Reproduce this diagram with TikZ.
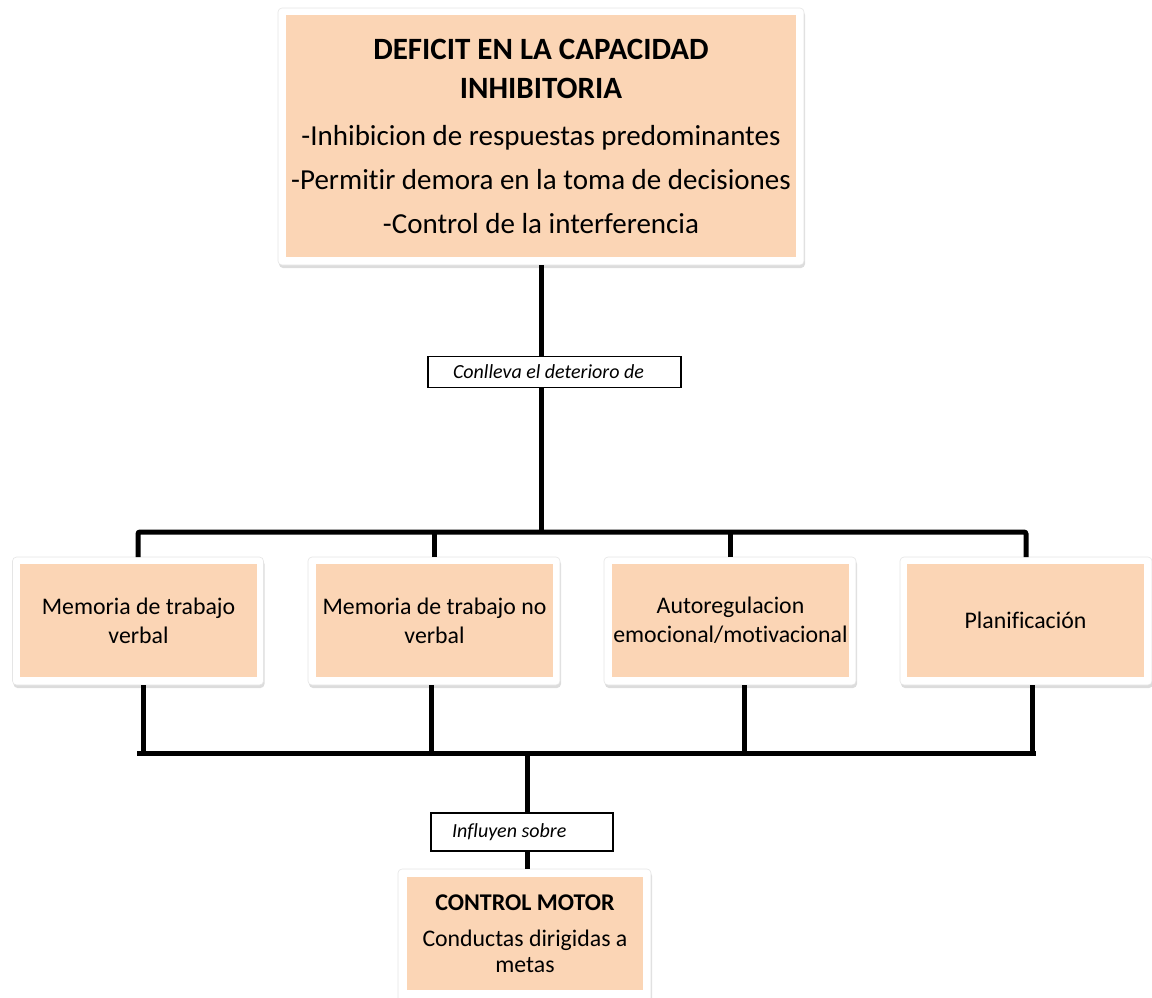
\documentclass[tikz,border=0pt]{standalone}
\usepackage{fontspec}
\setmainfont{Carlito}[Ligatures=NoCommon]
\usetikzlibrary{shadows,calc}
\definecolor{peach}{HTML}{FBD5B5}
\begin{document}
\begin{tikzpicture}[x=1pt,y=-1pt,
  frame/.style={fill=white, draw=black!10, line width=0.6pt, rounded corners=4pt, inner sep=0pt, outer sep=0pt,
    drop shadow={opacity=0.28, shadow xshift=1pt, shadow yshift=-3pt}},
  pbox/.style={fill=peach, inner sep=0pt, outer sep=0pt, align=flush center},
  lbl/.style={draw=black, line width=1.3pt, fill=white, inner ysep=0pt, outer sep=0pt,
    align=flush left, font=\itshape\fontsize{20}{24}\selectfont},
  conn/.style={line width=5pt, draw=black}
]
\useasboundingbox (0,0) rectangle (1152,997);

% top box
\node[frame, minimum width=526pt, minimum height=257pt] (topw) at (541,136.5) {};
\node[pbox, minimum width=510pt, minimum height=242pt, text width=508pt] (top) at (541,136)
 {\vspace*{5pt}{\fontsize{31}{34}\selectfont\bfseries DEFICIT EN LA CAPACIDAD\\INHIBITORIA\par}\vspace{3pt}%
  {\fontsize{29}{44}\selectfont -Inhibicion de respuestas predominantes\\-Permitir demora en la toma de decisiones\\-Control de la interferencia\par}};

% middle boxes
\node[frame, minimum width=251pt, minimum height=128pt] (w1) at (138,621) {};
\node[frame, minimum width=252pt, minimum height=128pt] (w2) at (434,621) {};
\node[frame, minimum width=252pt, minimum height=128pt] (w3) at (730,621) {};
\node[frame, minimum width=252pt, minimum height=128pt] (w4) at (1026,621) {};
\tikzset{mid/.style={pbox, minimum width=237pt, minimum height=113pt, text width=237pt,
  font=\fontsize{23.8}{29}\selectfont}}
\node[mid] (m1) at (138.5,620.5) {Memoria de trabajo\\verbal};
\node[mid] (m2) at (434.5,620.5) {Memoria de trabajo no\\verbal};
\node[mid] (m3) at (730.5,620.5) {Autoregulacion\\emocional/motivacional};
\node[mid] (m4) at (1025.5,620.5) {Planificación};

% bottom box
\node[frame, minimum width=253pt, minimum height=140pt] (bw) at (524.5,939) {};
\node[pbox, minimum width=236pt, minimum height=113pt, text width=236pt] (bot) at (525,933.5)
 {{\fontsize{24}{29}\selectfont\bfseries CONTROL MOTOR\par}\vspace{10pt}%
  {\fontsize{23.8}{26}\selectfont Conductas dirigidas a\\metas\par}};

% labels
\node[lbl, inner xsep=25pt, text width=203pt, minimum height=31pt] (l1) at (554.5,372) {Conlleva el deterioro de};
\node[lbl, inner xsep=21pt, text width=140pt, minimum height=38pt] (l2) at (522,832) {Influyen sobre};

% junctions
\coordinate (j1) at (541,532);
\coordinate (j2) at (527,753);
\coordinate (bl) at (137,753);
\coordinate (br) at (1036,753);

% connectors top
\draw[conn] (topw.south) -- (topw.south |- l1.north);
\draw[conn] (topw.south |- l1.south) -- (j1);
\draw[conn, rounded corners=2pt] (w1.north) |- (j1) -| (w4.north);
\draw[conn] (w2.north) -- (w2.north |- j1);
\draw[conn] (w3.north) -- (w3.north |- j1);

% connectors bottom
\draw[conn] ([xshift=5pt]w1.south) -- ([xshift=5pt]w1.south |- bl);
\draw[conn] ([xshift=-3pt]w2.south) -- ([xshift=-3pt]w2.south |- bl);
\draw[conn] ([xshift=14pt]w3.south) -- ([xshift=14pt]w3.south |- bl);
\draw[conn] ([xshift=6pt]w4.south) -- ([xshift=6pt]w4.south |- bl);
\draw[conn] (bl) -- (br);
\draw[conn] (j2) -- (j2 |- l2.north);
\draw[conn] (j2 |- l2.south) -- (j2 |- bw.north);
\end{tikzpicture}
\end{document}
